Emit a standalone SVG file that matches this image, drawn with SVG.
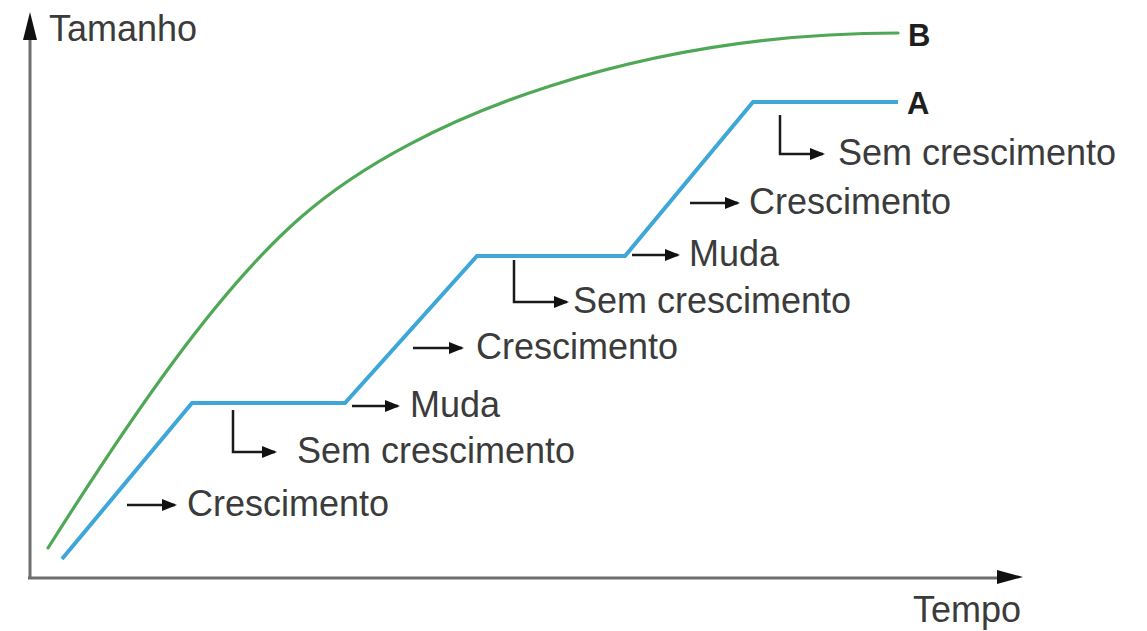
<svg xmlns="http://www.w3.org/2000/svg" width="1147" height="631" viewBox="0 0 1147 631">
  <style>
    .lbl { font-family: "Liberation Sans", Arial, sans-serif; font-size: 36px; fill: #3b3b3b; }
    .cur { font-family: "Liberation Sans", Arial, sans-serif; font-size: 31px; font-weight: bold; fill: #1e1e1e; }
    .axis { stroke: #6e6e6e; stroke-width: 3; fill: none; }
    .head { fill: #111111; }
    .ptr { stroke: #1a1a1a; stroke-width: 2.5; fill: none; marker-end: url(#tip); }
    .curveA { stroke: #3fa7d8; stroke-width: 4; fill: none; stroke-linejoin: miter; }
    .curveB { stroke: #4fa855; stroke-width: 3.2; fill: none; stroke-linecap: round; }
  </style>
  <defs>
    <marker id="tip" markerUnits="userSpaceOnUse" markerWidth="15" markerHeight="12" viewBox="0 0 15 12" refX="13" refY="6" orient="auto">
      <path d="M0,0 L15,6 L0,12 z" fill="#111111"/>
    </marker>
  </defs>
  <rect width="1147" height="631" fill="#ffffff"/>

  <g id="axes">
    <line class="axis" x1="30" y1="578" x2="30" y2="36"/>
    <polygon class="head" points="30,12 23,40 37,40"/>
    <line class="axis" x1="28" y1="578" x2="1000" y2="578"/>
    <polygon class="head" points="1023,577 997,570 997,584"/>
    <text class="lbl" x="49" y="41">Tamanho</text>
    <text class="lbl" x="913" y="622">Tempo</text>
  </g>

  <g id="curve-B">
    <path class="curveB" d="M48,548 C132,415.3 216,291.9 300,218 C420,112.4 648,33 898,33"/>
    <text class="cur" x="908" y="46">B</text>
  </g>

  <g id="curve-A">
    <path class="curveA" d="M62,559 L192,403 L345,403 L477,256 L625,256 L753,102 L898,102"/>
    <text class="cur" x="907" y="114">A</text>
  </g>

  <g id="connectors">
    <path class="ptr" d="M127,505 L175,505"/>
    <path class="ptr" d="M233,410 L233,452 L275,452"/>
    <path class="ptr" d="M352,406 L398,406"/>
    <path class="ptr" d="M413,348 L462,348"/>
    <path class="ptr" d="M514,260 L514,302 L567,302"/>
    <path class="ptr" d="M632,255 L678,255"/>
    <path class="ptr" d="M690,203 L738,203"/>
    <path class="ptr" d="M780,115 L780,154 L823,154"/>
  </g>

  <g id="labels">
    <text class="lbl" x="187" y="516">Crescimento</text>
    <text class="lbl" x="297" y="463">Sem crescimento</text>
    <text class="lbl" x="410" y="417">Muda</text>
    <text class="lbl" x="476" y="359">Crescimento</text>
    <text class="lbl" x="573" y="313">Sem crescimento</text>
    <text class="lbl" x="689" y="266">Muda</text>
    <text class="lbl" x="749" y="214">Crescimento</text>
    <text class="lbl" x="838" y="165">Sem crescimento</text>
  </g>
</svg>
